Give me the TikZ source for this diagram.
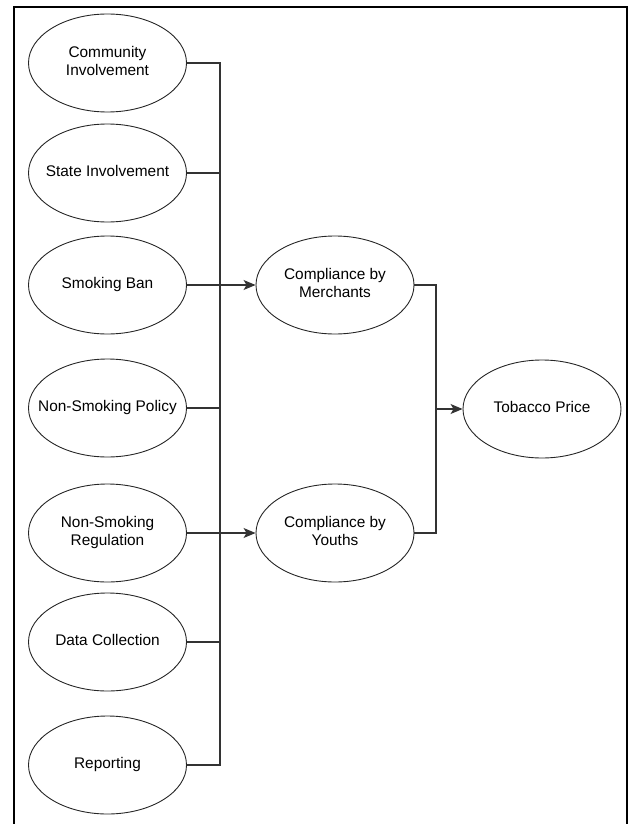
\documentclass[tikz,border=0pt]{standalone}
\usepackage{fontspec}
\setmainfont{Liberation Sans}
\usetikzlibrary{shapes.geometric,arrows.meta}
\newcommand{\lbl}[1]{\makebox[0pt]{\begin{tabular}{@{}c@{}}#1\end{tabular}}}
\begin{document}
\begin{tikzpicture}[x=1pt,y=-1pt,
  oval/.style={ellipse, draw=black!85, line width=0.9pt, minimum width=158pt,
    minimum height=98pt, inner sep=0pt,
    font=\fontsize{15.4}{17.5}\selectfont, text=black},
  wire/.style={draw=black!80, line width=1.1pt},
  arr/.style={wire, -{Stealth[length=12pt,width=10pt,inset=3pt]}}]
\useasboundingbox (0,0) rectangle (634,824);
% outer frame, its lower edge runs off the page
\draw[line width=2.6pt] (14,7) rectangle (627,840);

% factors on the left
\node[oval] (ci) at (107.5,63)  {\lbl{Community\\Involvement}};
\node[oval] (si) at (107.5,173) {\lbl{State Involvement}};
\node[oval] (sb) at (107.5,285) {\lbl{Smoking Ban}};
\node[oval] (np) at (107.5,408) {\lbl{Non-Smoking Policy}};
\node[oval] (nr) at (107.5,533) {\lbl{Non-Smoking\\Regulation}};
\node[oval] (dc) at (107.5,642) {\lbl{Data Collection}};
\node[oval] (rp) at (107.5,765) {\lbl{Reporting}};

% compliance outcomes
\node[oval] (cm) at (335,285) {\lbl{Compliance by\\Merchants}};
\node[oval] (cy) at (335,533) {\lbl{Compliance by\\Youths}};

% final outcome
\node[oval] (tp) at (542,409) {\lbl{Tobacco Price}};

% left collector bus
\coordinate (lt) at (220,63);
\coordinate (lb) at (220,765);
\draw[wire] (ci.east) -- (lt) -- (lb) -- (rp.east);
\draw[wire] (si.east) -- (si.east -| lt);
\draw[wire] (np.east) -- (np.east -| lt);
\draw[wire] (dc.east) -- (dc.east -| lt);
\draw[arr] (sb.east) -- (cm.west);
\draw[arr] (nr.east) -- (cy.west);

% right collector bus
\coordinate (rb) at (436,409);
\draw[wire] (cm.east) -| (rb) |- (cy.east);
\draw[arr] (rb) -- (tp.west);
\end{tikzpicture}
\end{document}
